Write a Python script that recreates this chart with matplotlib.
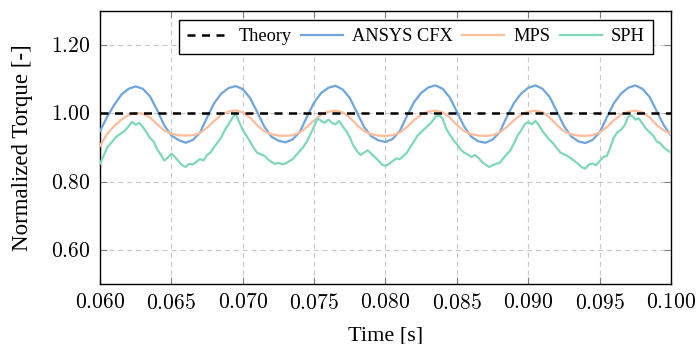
import numpy as np
import matplotlib
matplotlib.use("Agg")
import matplotlib.pyplot as plt
from matplotlib.ticker import FuncFormatter

plt.rcParams['font.family'] = ['Liberation Serif', 'DejaVu Serif']
plt.rcParams['mathtext.fontset'] = 'cm'

# ---------------- data ----------------
t_coarse = [round(0.060 + 0.0005 * i, 5) for i in range(81)]
t_fine = [round(0.060 + 0.00025 * i, 5) for i in range(161)]

theory = [1.0, 1.0]
theory_t = [0.060, 0.100]

cfx = [0.948, 0.990, 1.025, 1.055, 1.072, 1.079, 1.072, 1.050, 1.010, 0.965,
       0.935, 0.922, 0.914, 0.922, 0.943, 0.988, 1.030, 1.058, 1.074, 1.080,
       1.071, 1.046, 1.005, 0.962, 0.932, 0.920, 0.915, 0.924, 0.946, 0.990,
       1.032, 1.060, 1.075, 1.081, 1.070, 1.045, 1.003, 0.960, 0.933, 0.921,
       0.916, 0.925, 0.948, 0.992, 1.033, 1.060, 1.076, 1.082, 1.072, 1.047,
       1.005, 0.962, 0.932, 0.918, 0.914, 0.923, 0.945, 0.990, 1.030, 1.058,
       1.075, 1.082, 1.072, 1.048, 1.006, 0.963, 0.933, 0.918, 0.913, 0.922,
       0.944, 0.988, 1.030, 1.058, 1.075, 1.082, 1.072, 1.048, 1.006, 0.965,
       0.935]

mps = [0.905, 0.940, 0.963, 0.982, 0.995, 1.001, 0.999, 0.988, 0.968, 0.950,
       0.940, 0.936, 0.935, 0.936, 0.942, 0.958, 0.978, 0.996, 1.005, 1.009,
       1.003, 0.988, 0.966, 0.948, 0.939, 0.935, 0.934, 0.936, 0.944, 0.960,
       0.980, 0.996, 1.005, 1.008, 1.003, 0.988, 0.966, 0.948, 0.939, 0.935,
       0.934, 0.936, 0.944, 0.960, 0.980, 0.996, 1.005, 1.008, 1.003, 0.988,
       0.966, 0.948, 0.939, 0.935, 0.934, 0.936, 0.944, 0.960, 0.980, 0.996,
       1.005, 1.008, 1.003, 0.988, 0.966, 0.948, 0.939, 0.935, 0.934, 0.936,
       0.944, 0.960, 0.980, 0.996, 1.005, 1.008, 1.003, 0.988, 0.966, 0.950,
       0.940]

sph = [0.853, 0.875, 0.900, 0.912, 0.925, 0.935, 0.942, 0.950, 0.962, 0.975,
       0.967, 0.972, 0.960, 0.945, 0.928, 0.918, 0.895, 0.880, 0.862, 0.870,
       0.882, 0.872, 0.860, 0.848, 0.843, 0.852, 0.850, 0.858, 0.866, 0.862,
       0.878, 0.886, 0.902, 0.915, 0.930, 0.952, 0.968, 0.985, 0.999, 0.975,
       0.952, 0.935, 0.918, 0.900, 0.885, 0.880, 0.876, 0.866, 0.858, 0.852,
       0.855, 0.851, 0.853, 0.860, 0.866, 0.878, 0.890, 0.902, 0.918, 0.940,
       0.962, 0.985, 0.978, 0.972, 0.982, 0.972, 0.968, 0.978, 0.962, 0.948,
       0.930, 0.905, 0.890, 0.878, 0.885, 0.892, 0.882, 0.872, 0.862, 0.850,
       0.846, 0.852, 0.860, 0.868, 0.866, 0.875, 0.885, 0.902, 0.918, 0.935,
       0.945, 0.955, 0.965, 0.975, 0.990, 0.994, 0.985, 0.955, 0.938, 0.922,
       0.910, 0.895, 0.885, 0.880, 0.872, 0.878, 0.870, 0.858, 0.850, 0.843,
       0.848, 0.852, 0.855, 0.868, 0.880, 0.892, 0.912, 0.935, 0.950, 0.968,
       0.975, 0.968, 0.978, 0.965, 0.948, 0.935, 0.922, 0.912, 0.898, 0.885,
       0.880, 0.875, 0.868, 0.860, 0.852, 0.842, 0.838, 0.850, 0.853, 0.848,
       0.860, 0.872, 0.875, 0.900, 0.930, 0.945, 0.952, 0.965, 0.990, 0.994,
       0.982, 0.985, 0.970, 0.955, 0.945, 0.935, 0.918, 0.912, 0.900, 0.892,
       0.885]

x_ticks = [0.060, 0.065, 0.070, 0.075, 0.080, 0.085, 0.090, 0.095, 0.100]
y_ticks = [0.60, 0.80, 1.00, 1.20]

# ---------------- plot ----------------
fig = plt.figure(figsize=(6.97, 3.44), dpi=100)
ax = fig.add_axes([100 / 697, 60 / 344, 571 / 697, 273 / 344])

c_cfx = '#6fa5dc'
c_mps = '#fdbd9c'
c_sph = '#7fd8bb'

ax.plot(theory_t, theory, color='black', lw=1.8, dashes=(3.2, 2.6), label='Theory', zorder=5)
ax.plot(t_coarse, cfx, color=c_cfx, lw=1.6, label='ANSYS CFX', zorder=3)
ax.plot(t_coarse, mps, color=c_mps, lw=1.6, label='MPS', zorder=3)
ax.plot(t_fine, sph, color=c_sph, lw=1.6, label='SPH', zorder=3)

ax.set_xlim(0.060, 0.100)
ax.set_ylim(0.5, 1.3)
ax.set_xticks(x_ticks)
ax.set_yticks(y_ticks)
ax.xaxis.set_major_formatter(FuncFormatter(lambda v, p: r'$%.3f$' % v))
ax.yaxis.set_major_formatter(FuncFormatter(lambda v, p: r'$%.2f$' % v))
ax.tick_params(axis='both', which='major', direction='in', length=5, width=0.8,
               color='#808080', labelsize=15.5, top=True, right=True, pad=7)
ax.grid(True, color='#c8c8c8', lw=0.8, dashes=(4.5, 3.5))
ax.set_axisbelow(True)
for s in ax.spines.values():
    s.set_linewidth(1.0)
    s.set_color('black')

ax.set_xlabel('Time [s]', fontsize=16, labelpad=9)
ax.set_ylabel('Normalized Torque [-]', fontsize=16.5, labelpad=13)

leg = ax.legend(loc='upper right', bbox_to_anchor=(0.9685, 0.967), ncol=4,
                fontsize=13.2, frameon=True, fancybox=False, framealpha=1,
                edgecolor='black', handlelength=2.3, handletextpad=0.5,
                columnspacing=0.5, borderpad=0.45, borderaxespad=0)
leg.get_frame().set_linewidth(1.0)

fig.savefig('out.png', dpi=100)
